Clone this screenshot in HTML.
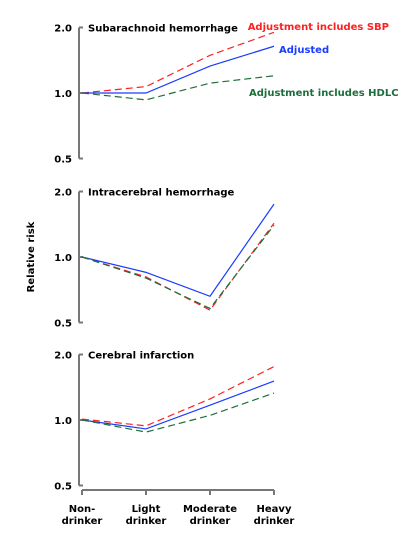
<!DOCTYPE html>
<html><head><meta charset="utf-8"><style>
html,body{margin:0;padding:0;background:#fff;}
svg text{font-family:"DejaVu Sans","Liberation Sans",sans-serif;font-weight:bold;font-size:10px;}
</style></head><body>
<svg id="chart" width="419" height="547" viewBox="0 0 419 547" xmlns="http://www.w3.org/2000/svg"></svg>
<script>
const categories = ["Non-|drinker","Light|drinker","Moderate|drinker","Heavy|drinker"];
const yTicks = [2.0, 1.0, 0.5];
const yTickLabels = ["2.0","1.0","0.5"];
const panelTitles = ["Subarachnoid hemorrhage","Intracerebral hemorrhage","Cerebral infarction"];
const sahSBP = [1.0, 1.07, 1.49, 1.90];
const sahAdj = [1.0, 1.0, 1.33, 1.64];
const sahHDLC = [1.0, 0.93, 1.11, 1.20];
const ichSBP = [1.0, 0.81, 0.57, 1.43];
const ichAdj = [1.0, 0.85, 0.66, 1.75];
const ichHDLC = [1.0, 0.80, 0.58, 1.40];
const ciSBP = [1.01, 0.94, 1.25, 1.76];
const ciAdj = [1.0, 0.91, 1.17, 1.51];
const ciHDLC = [1.0, 0.88, 1.05, 1.33];

const svg = document.getElementById('chart');
const NS = 'http://www.w3.org/2000/svg';
function mk(tag, attrs, parent){const e=document.createElementNS(NS,tag);for(const k in attrs)e.setAttribute(k,attrs[k]);(parent||svg).appendChild(e);return e;}
const axisX = 79;
const xPos = i => 82 + i * 64;
const panelsTop = [93, 257, 420];
const UNIT = 65.5;
const yPos = (p, v) => panelsTop[p] - Math.log2(v) * UNIT;
const red='#ff2020', blue='#1a3cff', green='#1e6e3c';
const seriesSets = [[sahSBP,sahAdj,sahHDLC],[ichSBP,ichAdj,ichHDLC],[ciSBP,ciAdj,ciHDLC]];
const styles = [{c:red,d:'7,4',n:'sbp'},{c:blue,d:'',n:'adjusted'},{c:green,d:'7,4',n:'hdlc'}];

for (let p=0;p<3;p++){
  const g = mk('g',{});
  
  
  const ax = mk('line',{x1:axisX,x2:axisX,y1:yPos(p,2),y2:yPos(p,0.5),stroke:'#777','stroke-width':2},g);
  
  
  yTicks.forEach((t,i)=>{
    const y=yPos(p,t);
    const tk=mk('line',{x1:axisX,x2:axisX+4,y1:y,y2:y,stroke:'#777','stroke-width':2},g);
    
    
    const tl=mk('text',{x:72,y:y+4,'text-anchor':'end',fill:'#000'},g);
    tl.textContent=yTickLabels[i];
    
    
  });
  const tt=mk('text',{x:88,y:yPos(p,2)+4,fill:'#000'},g);
  tt.textContent=panelTitles[p];
  
  
  seriesSets[p].forEach((vals,s)=>{
    const pts=vals.map((v,i)=>xPos(i)+','+yPos(p,v)).join(' ');
    const attrs={points:pts,fill:'none',stroke:styles[s].c,'stroke-width':1.2};
    if(styles[s].d)attrs['stroke-dasharray']=styles[s].d;
    const l=mk('polyline',attrs,g);
    
    
  });
}
// x-axis
const xa=mk('line',{x1:xPos(0),x2:xPos(3),y1:490,y2:490,stroke:'#777','stroke-width':2});


categories.forEach((c,i)=>{
  const tk=mk('line',{x1:xPos(i),x2:xPos(i),y1:490,y2:495,stroke:'#777','stroke-width':2});
  
  
  const parts=c.split('|');
  parts.forEach((pt,j)=>{
    const t=mk('text',{x:xPos(i),y:512+j*12,'text-anchor':'middle',fill:'#000'});
    t.textContent=pt;
    
    
  });
});
const yt=mk('text',{x:0,y:0,'text-anchor':'middle',fill:'#000',transform:'translate(34,257) rotate(-90)'});
yt.textContent='Relative risk';


const legends=[['Adjustment includes SBP',389,30,'end',red,'legend-sbp'],['Adjusted',279,53,'start',blue,'legend-adjusted'],['Adjustment includes HDLC',249,96,'start',green,'legend-hdlc']];
legends.forEach(L=>{
  const t=mk('text',{x:L[1],y:L[2],'text-anchor':L[3],fill:L[4]});
  t.textContent=L[0];
  
  
});
</script>
</body></html>
